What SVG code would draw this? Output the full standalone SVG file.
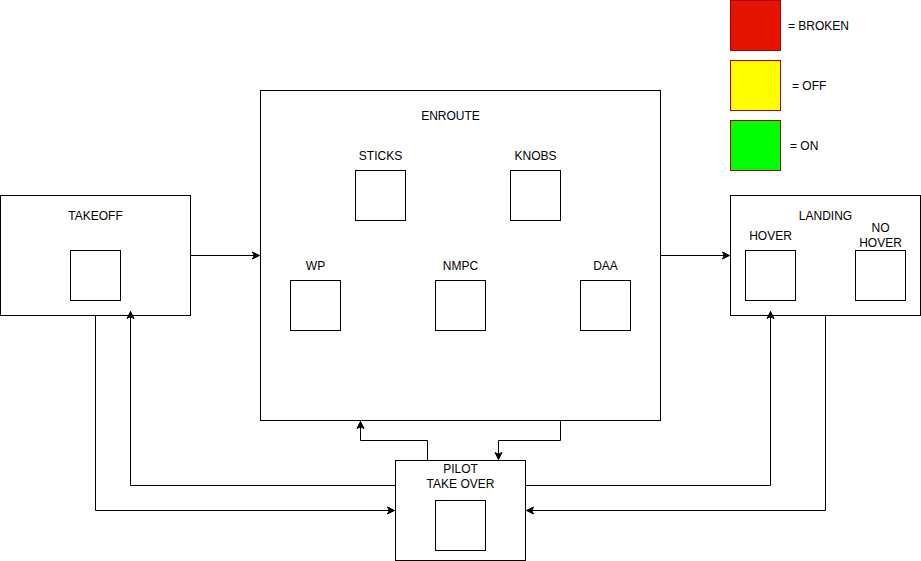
<svg xmlns="http://www.w3.org/2000/svg" width="921" height="561" viewBox="0 0 921 561">
<style>
.box{fill:#fff;stroke:#000;stroke-width:1}
.sq{fill:#fff;stroke:#000;stroke-width:1}
.t{font-family:"Liberation Sans",Arial,sans-serif;font-size:12px;fill:#000;text-anchor:middle}
.tl{font-family:"Liberation Sans",Arial,sans-serif;font-size:12px;fill:#000}
.leg{stroke:#B20000;stroke-width:1}
.c{fill:none;stroke:#000;stroke-width:1;marker-end:url(#arr)}
</style>
<defs>
<marker id="arr" markerUnits="userSpaceOnUse" markerWidth="10" markerHeight="10" viewBox="0 0 10 10" refX="8" refY="5" orient="auto">
<path d="M1,1.5 L8,5 L1,8.5 L2.75,5 Z" fill="#000" stroke="#000" stroke-width="1"/>
</marker>
</defs>
<rect width="921" height="561" fill="#fff"/>
<g id="legend">
<rect class="leg" x="730.5" y="0.5" width="50" height="50" fill="#E51400"/>
<text class="tl" x="788" y="29.5">= BROKEN</text>
<rect class="leg" x="730.5" y="60.5" width="50" height="50" fill="#FFFF00"/>
<text class="tl" x="792" y="89.5">= OFF</text>
<rect class="leg" x="730.5" y="120.5" width="50" height="50" fill="#00FF00"/>
<text class="tl" x="790" y="149.5">= ON</text>
</g>
<g id="takeoff">
<rect class="box" x="0.5" y="195.5" width="190" height="120"/>
<text class="t" x="95.5" y="219.5">TAKEOFF</text>
<rect class="sq" x="70.5" y="250.5" width="50" height="50"/>
</g>
<g id="enroute">
<rect class="box" x="260.5" y="90.5" width="400" height="330"/>
<text class="t" x="450.5" y="119.5">ENROUTE</text>
<g id="sticks"><text class="t" x="380.5" y="159.5">STICKS</text><rect class="sq" x="355.5" y="170.5" width="50" height="50"/></g>
<g id="knobs"><text class="t" x="535.5" y="159.5">KNOBS</text><rect class="sq" x="510.5" y="170.5" width="50" height="50"/></g>
<g id="wp"><text class="t" x="315.5" y="269.5">WP</text><rect class="sq" x="290.5" y="280.5" width="50" height="50"/></g>
<g id="nmpc"><text class="t" x="460.5" y="269.5">NMPC</text><rect class="sq" x="435.5" y="280.5" width="50" height="50"/></g>
<g id="daa"><text class="t" x="605.5" y="269.5">DAA</text><rect class="sq" x="580.5" y="280.5" width="50" height="50"/></g>
</g>
<g id="landing">
<rect class="box" x="730.5" y="195.5" width="190" height="120"/>
<text class="t" x="825.5" y="219.5">LANDING</text>
<g id="hover"><text class="t" x="770.5" y="239.5">HOVER</text><rect class="sq" x="745.5" y="250.5" width="50" height="50"/></g>
<g id="nohover"><text class="t" x="880.5" y="231.5">NO</text><text class="t" x="880.5" y="246.5">HOVER</text><rect class="sq" x="855.5" y="250.5" width="50" height="50"/></g>
</g>
<g id="pilot">
<rect class="box" x="395.5" y="460.5" width="130" height="100"/>
<text class="t" x="460.5" y="472.5">PILOT</text>
<text class="t" x="460.5" y="487.5">TAKE OVER</text>
<rect class="sq" x="435.5" y="500.5" width="50" height="50"/>
</g>
<g id="connectors">
<path class="c" d="M190.5,255.5 L259.5,255.5"/>
<path class="c" d="M660.5,255.5 L729.5,255.5"/>
<path class="c" d="M95.5,315.5 L95.5,510.5 L394.5,510.5"/>
<path class="c" d="M395.5,485.5 L130.5,485.5 L130.5,311.5"/>
<path class="c" d="M427.5,460.5 L427.5,440.5 L360.5,440.5 L360.5,421.5"/>
<path class="c" d="M560.5,420.5 L560.5,440.5 L498.5,440.5 L498.5,459.5"/>
<path class="c" d="M525.5,485.5 L770.5,485.5 L770.5,311.5"/>
<path class="c" d="M825.5,315.5 L825.5,510.5 L526.5,510.5"/>
</g>
</svg>
